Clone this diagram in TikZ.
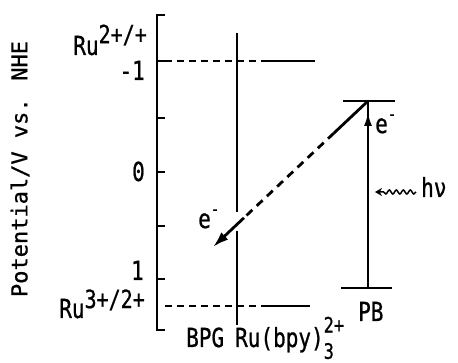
\documentclass[tikz,border=0pt]{standalone}
\usepackage{fontspec}
\setmainfont{DejaVu Sans Mono}[FakeBold=0.9]
\usetikzlibrary{arrows.meta,decorations.pathmorphing}
\newcommand{\tall}[1]{\scalebox{1}[1.25]{#1}}
\newcommand{\upx}[1]{\raisebox{0.45em}{\fontsize{20}{20}\selectfont #1}}
\newcommand{\lowupx}[1]{\raisebox{0.38em}{\fontsize{20}{20}\selectfont #1}}
\newcommand{\minx}{\raisebox{0.5em}{\fontsize{14}{14}\selectfont -}}
\newcommand{\updnx}[2]{\rlap{\raisebox{-0.45em}{\fontsize{17}{17}\selectfont #2}}\raisebox{0.55em}{\fontsize{17}{17}\selectfont #1}}

\begin{document}
\begin{tikzpicture}[x=1pt,y=-1pt,
  txt/.style={inner sep=0pt,font=\fontsize{21}{24}\selectfont},
  ax/.style={line width=2.8pt},
  lvl/.style={line width=2.6pt},
  refl/.style={line width=1.6pt,dash pattern=on 7pt off 5pt},
  tip/.style={-{Latex[length=14pt,width=8pt]}}]
\useasboundingbox (0,0) rectangle (458,363);

% potential axis
\coordinate (axtop) at (157,15);
\coordinate (axbot) at (157,330);
\draw[ax] ([xshift=8pt]axtop) -- (axtop) -- (axbot) -- ([xshift=8pt]axbot);
\foreach \y in {61,118,172,226,279}
  \draw[ax] (157,\y) -- (165,\y);

\node[txt,rotate=90] (ylab) at (20,169) {\fontsize{22}{24}\selectfont Potential/V vs. NHE};
\node[txt,anchor=base east] (rutop) at (147,55) {\tall{Ru\upx{2+/+}}};
\node[txt,anchor=base east] (mone) at (145,80) {\tall{-1}};
\node[txt,anchor=base east] (zero) at (145,181) {\tall{0}};
\node[txt,anchor=base east] (one) at (144,280) {\tall{1}};
\node[txt,anchor=base east] (rubot) at (145,318) {\tall{Ru\lowupx{3+/2+}}};

% Ru(bpy) levels
\coordinate (ruA) at (165,61);
\coordinate (ruB) at (263,61);
\coordinate (ruC) at (315,61);
\coordinate (ruD) at (165,306);
\coordinate (ruE) at (263,306);
\coordinate (ruF) at (310,306);
\draw[refl] (ruA) -- (ruB);
\draw[lvl] (ruB) -- (ruC);
\draw[refl] (ruD) -- (ruE);
\draw[lvl] (ruE) -- (ruF);

% BPG | Ru(bpy) separator
\coordinate (sepT) at (237,33);
\coordinate (sepM1) at (237,212);
\coordinate (sepM2) at (237,231);
\coordinate (sepB) at (237,325);
\draw[lvl] (sepT) -- (sepM1);
\draw[lvl] (sepM2) -- (sepB);

% PB levels and excitation
\coordinate (pbtop) at (368,101);
\coordinate (pbbot) at (368,288);
\coordinate (pbarr) at (368,112);
\draw[lvl] (343,101) -- (395,101);
\draw[lvl] (341,288) -- (392,288);
\draw[lvl] (pbbot) -- (pbtop);
\draw[lvl,tip] (pbbot) -- (pbarr);
\node[txt,anchor=base west] (e1) at (375,133) {\tall{e\minx}};

% light
\coordinate (hvs) at (416,192);
\coordinate (hve) at (375,192);
\draw[line width=1.5pt,-{Stealth[length=7pt,width=8pt]},decorate,
  decoration={snake,amplitude=2pt,segment length=7pt,post length=7pt}] (hvs) -- (hve);
\node[txt,anchor=base west] (hnu) at (421,197) {\tall{hν}};

% electron transfer
\coordinate (etip) at (213,247);
\path (pbtop) -- (etip) coordinate[pos=0.22] (d1) coordinate[pos=0.8] (d2);
\draw[lvl,line width=2.8pt] (pbtop) -- (d1);
\draw[lvl,line width=2.8pt,dash pattern=on 8pt off 6pt] (d1) -- (d2);
\draw[lvl,line width=2.8pt,-{Latex[length=16pt,width=10pt]}] (d2) -- (etip);
\node[txt,anchor=base west] (e2) at (198,228) {\tall{e\minx}};

% labels below
\node[txt,anchor=base west] (bpg) at (186,347) {\tall{BPG}};
\node[txt,anchor=base west] (rubpy) at (235,347) {\tall{Ru(bpy)\updnx{2+}{3}}};
\node[txt,anchor=base west] (pb) at (358,321) {\tall{PB}};
\end{tikzpicture}
\end{document}
